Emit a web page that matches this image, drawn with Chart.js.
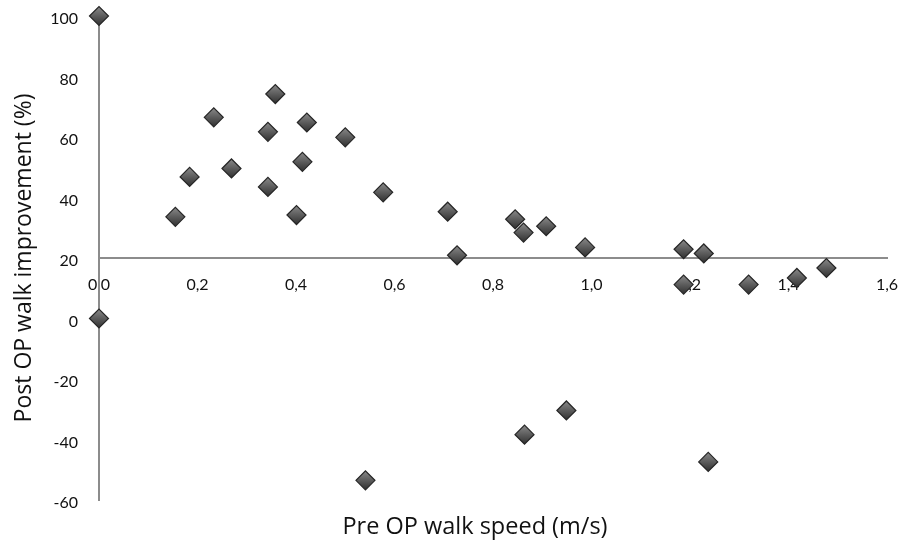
<!DOCTYPE html>
<html>
<head>
<meta charset="utf-8">
<script src="https://cdn.jsdelivr.net/npm/chart.js@4"></script>
<style>
html,body{margin:0;padding:0;background:#fff;}
#wrap{width:911px;height:543px;position:relative;}
</style>
</head>
<body>
<div id="wrap"><canvas id="c" width="911" height="543"></canvas></div>
<script>
// Pre OP walk speed (m/s)
const speeds = [0.0, 0.155, 0.184, 0.233, 0.269, 0.343, 0.343, 0.358, 0.401, 0.413,
  0.422, 0.500, 0.577, 0.708, 0.727, 0.845, 0.862, 0.908, 0.987, 1.187,
  1.228, 1.477, 1.187, 1.319, 1.417, 0.864, 0.949, 1.237, 0.0, 0.541];
// Post OP walk improvement (%)
const improvements = [100, 33.6, 46.8, 66.5, 49.6, 61.7, 43.5, 74.2, 34.2, 51.8,
  64.8, 59.9, 41.7, 35.3, 20.9, 32.8, 28.4, 30.5, 23.5, 22.9,
  21.5, 16.7, 11.2, 11.2, 13.4, -38.4, -30.4, -47.4, 0, -53.5];
const xTicks = [0, 0.2, 0.4, 0.6, 0.8, 1.0, 1.2, 1.4, 1.6];
const yTicks = [-60, -40, -20, 0, 20, 40, 60, 80, 100];
const xTitle = 'Pre OP walk speed (m/s)';
const yTitle = 'Post OP walk improvement (%)';

const points = speeds.map((s, i) => ({x: s, y: improvements[i]}));
const TICKFONT = 'Lato, "Open Sans", sans-serif';
const TITLEFONT = '"Open Sans", Lato, sans-serif';

function diamondFill(c) {
  const chart = c.chart;
  if (!chart.scales || !chart.scales.x || !c.raw) return '#5a5a5a';
  const px = chart.scales.x.getPixelForValue(c.raw.x);
  const py = chart.scales.y.getPixelForValue(c.raw.y);
  if (!isFinite(px) || !isFinite(py)) return '#5a5a5a';
  const g = chart.ctx.createLinearGradient(px, py - 10, px, py + 10);
  g.addColorStop(0, '#8c8c8c');
  g.addColorStop(0.5, '#5c5c5c');
  g.addColorStop(1, '#2e2e2e');
  return g;
}

const xTitlePlugin = {
  id: 'xTitlePlugin',
  afterDraw(chart) {
    const ctx = chart.ctx;
    ctx.save();
    ctx.font = '23.5px ' + TITLEFONT;
    ctx.fillStyle = '#111';
    ctx.textAlign = 'center';
    ctx.textBaseline = 'middle';
    ctx.fillText(xTitle, 475, 527);
    ctx.restore();
  }
};

new Chart(document.getElementById('c'), {
  type: 'scatter',
  data: {
    datasets: [{
      data: points,
      pointStyle: 'rectRot',
      pointRadius: 9.5,
      pointHoverRadius: 9.5,
      backgroundColor: diamondFill,
      borderColor: '#262626',
      borderWidth: 1.2,
      clip: false
    }]
  },
  options: {
    responsive: false,
    animation: false,
    events: [],
    layout: {padding: {left: 6, top: 16, right: 24, bottom: 43}},
    plugins: {legend: {display: false}, tooltip: {enabled: false}, title: {display: false}},
    scales: {
      x: {
        type: 'linear',
        position: {y: 20},
        min: 0, max: 1.6,
        afterBuildTicks(scale) { scale.ticks = xTicks.map(v => ({value: v})); },
        afterFit(scale) { scale.paddingLeft = 0; scale.paddingRight = 0; },
        ticks: {
          padding: 17,
          color: '#111',
          font: {family: TICKFONT, size: 16},
          maxRotation: 0,
          callback: v => Number(v).toFixed(1).replace('.', ',')
        },
        grid: {display: false, drawTicks: false},
        border: {display: true, color: '#8c8c8c', width: 2}
      },
      y: {
        type: 'linear',
        position: 'left',
        min: -60, max: 100,
        afterBuildTicks(scale) { scale.ticks = yTicks.map(v => ({value: v})); },
        afterFit(scale) { scale.width = 93; scale.paddingTop = 0; scale.paddingBottom = 0; },
        ticks: {
          padding: 21,
          labelOffset: 3,
          color: '#111',
          font: {family: TICKFONT, size: 16},
          callback: v => String(v)
        },
        grid: {display: false, drawTicks: false},
        border: {display: true, color: '#8c8c8c', width: 2},
        title: {
          display: true,
          text: yTitle,
          color: '#111',
          font: {family: TITLEFONT, size: 23},
          padding: {top: 5, bottom: 0}
        }
      }
    }
  },
  plugins: [xTitlePlugin]
});
</script>
</body>
</html>
